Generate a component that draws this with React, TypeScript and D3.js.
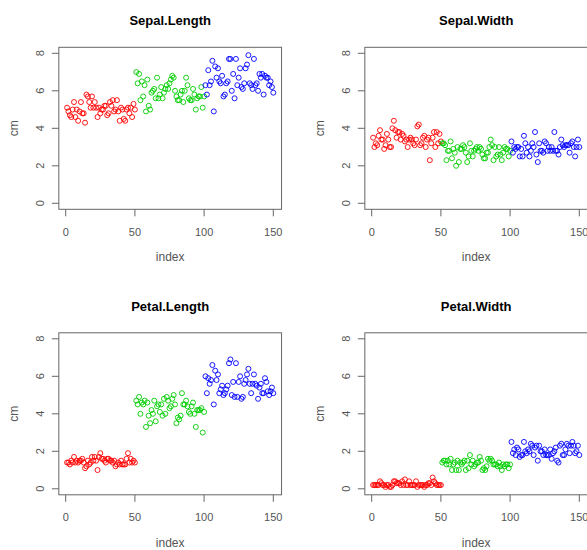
import React from "react";
import * as d3 from "d3";

const sepalLength = [5.1,4.9,4.7,4.6,5.0,5.4,4.6,5.0,4.4,4.9,5.4,4.8,4.8,4.3,5.8,5.7,5.4,5.1,5.7,5.1,5.4,5.1,4.6,5.1,4.8,5.0,5.0,5.2,5.2,4.7,4.8,5.4,5.2,5.5,4.9,5.0,5.5,4.9,4.4,5.1,5.0,4.5,4.4,5.0,5.1,4.8,5.1,4.6,5.3,5.0,
7.0,6.4,6.9,5.5,6.5,5.7,6.3,4.9,6.6,5.2,5.0,5.9,6.0,6.1,5.6,6.7,5.6,5.8,6.2,5.6,5.9,6.1,6.3,6.1,6.4,6.6,6.8,6.7,6.0,5.7,5.5,5.5,5.8,6.0,5.4,6.0,6.7,6.3,5.6,5.5,5.5,6.1,5.8,5.0,5.6,5.7,5.7,6.2,5.1,5.7,
6.3,5.8,7.1,6.3,6.5,7.6,4.9,7.3,6.7,7.2,6.5,6.4,6.8,5.7,5.8,6.4,6.5,7.7,7.7,6.0,6.9,5.6,7.7,6.3,6.7,7.2,6.2,6.1,6.4,7.2,7.4,7.9,6.4,6.3,6.1,7.7,6.3,6.4,6.0,6.9,6.7,6.9,5.8,6.8,6.7,6.7,6.3,6.5,6.2,5.9];

const sepalWidth = [3.5,3.0,3.2,3.1,3.6,3.9,3.4,3.4,2.9,3.1,3.7,3.4,3.0,3.0,4.0,4.4,3.9,3.5,3.8,3.8,3.4,3.7,3.6,3.3,3.4,3.0,3.4,3.5,3.4,3.2,3.1,3.4,4.1,4.2,3.1,3.2,3.5,3.6,3.0,3.4,3.5,2.3,3.2,3.5,3.8,3.0,3.8,3.2,3.7,3.3,
3.2,3.2,3.1,2.3,2.8,2.8,3.3,2.4,2.9,2.7,2.0,3.0,2.2,2.9,2.9,3.1,3.0,2.7,2.2,2.5,3.2,2.8,2.5,2.8,2.9,3.0,2.8,3.0,2.9,2.6,2.4,2.4,2.7,2.7,3.0,3.4,3.1,2.3,3.0,2.5,2.6,3.0,2.6,2.3,2.7,3.0,2.9,2.9,2.5,2.8,
3.3,2.7,3.0,2.9,3.0,3.0,2.5,2.9,2.5,3.6,3.2,2.7,3.0,2.5,2.8,3.2,3.0,3.8,2.6,2.2,3.2,2.8,2.8,2.7,3.3,3.2,2.8,3.0,2.8,3.0,2.8,3.8,2.8,2.8,2.6,3.0,3.4,3.1,3.0,3.1,3.1,3.1,2.7,3.2,3.3,3.0,2.5,3.0,3.4,3.0];

const petalLength = [1.4,1.4,1.3,1.5,1.4,1.7,1.4,1.5,1.4,1.5,1.5,1.6,1.4,1.1,1.2,1.5,1.3,1.4,1.7,1.5,1.7,1.5,1.0,1.7,1.9,1.6,1.6,1.5,1.4,1.6,1.6,1.5,1.5,1.4,1.5,1.2,1.3,1.4,1.3,1.5,1.3,1.3,1.3,1.6,1.9,1.4,1.6,1.4,1.5,1.4,
4.7,4.5,4.9,4.0,4.6,4.5,4.7,3.3,4.6,3.9,3.5,4.2,4.0,4.7,3.6,4.4,4.5,4.1,4.5,3.9,4.8,4.0,4.9,4.7,4.3,4.4,4.8,5.0,4.5,3.5,3.8,3.7,3.9,5.1,4.5,4.5,4.7,4.4,4.1,4.0,4.4,4.6,4.0,3.3,4.2,4.2,4.2,4.3,3.0,4.1,
6.0,5.1,5.9,5.6,5.8,6.6,4.5,6.3,5.8,6.1,5.1,5.3,5.5,5.0,5.1,5.3,5.5,6.7,6.9,5.0,5.7,4.9,6.7,4.9,5.7,6.0,4.8,4.9,5.6,5.8,6.1,6.4,5.6,5.1,5.6,6.1,5.6,5.5,4.8,5.4,5.6,5.1,5.1,5.9,5.7,5.2,5.0,5.2,5.4,5.1];

const petalWidth = [0.2,0.2,0.2,0.2,0.2,0.4,0.3,0.2,0.2,0.1,0.2,0.2,0.1,0.1,0.2,0.4,0.4,0.3,0.3,0.3,0.2,0.4,0.2,0.5,0.2,0.2,0.4,0.2,0.2,0.2,0.2,0.4,0.1,0.2,0.2,0.2,0.2,0.1,0.2,0.2,0.3,0.3,0.2,0.6,0.4,0.3,0.2,0.2,0.2,0.2,
1.4,1.5,1.5,1.3,1.5,1.3,1.6,1.0,1.3,1.4,1.0,1.5,1.0,1.4,1.3,1.4,1.5,1.0,1.5,1.1,1.8,1.3,1.5,1.2,1.3,1.4,1.4,1.7,1.5,1.0,1.1,1.0,1.2,1.6,1.5,1.6,1.5,1.3,1.3,1.3,1.2,1.4,1.2,1.0,1.3,1.2,1.3,1.3,1.1,1.3,
2.5,1.9,2.1,1.8,2.2,2.1,1.7,1.8,1.8,2.5,2.0,1.9,2.1,2.0,2.4,2.3,1.8,2.2,2.3,1.5,2.3,2.0,2.0,1.8,2.1,1.8,1.8,1.8,2.1,1.6,1.9,2.0,2.2,1.5,1.4,2.3,2.4,1.8,1.8,2.1,2.4,2.3,1.9,2.3,2.5,2.3,1.9,2.0,2.3,1.8];

const species = ["setosa", "versicolor", "virginica"];
const speciesColors = ["#FF0000", "#00CD00", "#0000FF"];
const panelTitles = ["Sepal.Length", "Sepal.Width", "Petal.Length", "Petal.Width"];
const panelSeries = [sepalLength, sepalWidth, petalLength, petalWidth];
const xTicks = [0, 50, 100, 150];
const yTicks = [0, 2, 4, 6, 8];
const xLabel = "index";
const yLabel = "cm";

const W = 587;
const H = 550;
const PANEL_W = 306;
const PANEL_H = 285.5;
const FONT = "'Liberation Sans', Arial, sans-serif";
const TEXT = "#555";
const AXIS = "#666";

function Panel({ title, values, ox, oy }: { title: string; values: number[]; ox: number; oy: number }) {
  const x = d3.scaleLinear().domain([0, 150]).range([65.7, 273.3]);
  const y = d3.scaleLinear().domain([0, 8]).range([203.3, 53.3]);
  const ext = (150 - 1) * 0.04;
  const bx0 = x(1 - ext);
  const bx1 = x(150 + ext);
  const by0 = y(8 + 0.32);
  const by1 = y(0 - 0.32);
  const cx = (bx0 + bx1) / 2;
  const cy = (by0 + by1) / 2;
  const colorOf = d3.scaleOrdinal<string, string>().domain(species).range(speciesColors);
  return (
    <g transform={`translate(${ox},${oy})`}>
      <text x={cx} y={25} textAnchor="middle" fontWeight="bold" fontSize={13} fill="#000" fontFamily={FONT}>
        {title}
      </text>
      <rect x={bx0} y={by0} width={bx1 - bx0} height={by1 - by0} fill="none" stroke={AXIS} strokeWidth={1} />
      {xTicks.map((t) => (
        <g key={"x" + t}>
          <line x1={x(t)} x2={x(t)} y1={by1} y2={by1 + 7} stroke={AXIS} />
          <text x={x(t)} y={235.5} textAnchor="middle" fontSize={11} fill={TEXT} fontFamily={FONT}>
            {t}
          </text>
        </g>
      ))}
      {yTicks.map((t) => (
        <g key={"y" + t}>
          <line x1={bx0 - 7} x2={bx0} y1={y(t)} y2={y(t)} stroke={AXIS} />
          <text
            transform={`translate(${44},${y(t)}) rotate(-90)`}
            textAnchor="middle"
            fontSize={11}
            fill={TEXT}
            fontFamily={FONT}
          >
            {t}
          </text>
        </g>
      ))}
      <text x={cx} y={261} textAnchor="middle" fontSize={12} fill={TEXT} fontFamily={FONT}>
        {xLabel}
      </text>
      <text transform={`translate(${18},${cy}) rotate(-90)`} textAnchor="middle" fontSize={12} fill={TEXT} fontFamily={FONT}>
        {yLabel}
      </text>
      {values.map((v, i) => (
        <circle
          key={i}
          cx={x(i + 1)}
          cy={y(v)}
          r={2.5}
          fill="none"
          stroke={colorOf(species[Math.floor(i / 50)])}
          strokeWidth={0.9}
        />
      ))}
    </g>
  );
}

export default function App() {
  return (
    <svg width={W} height={H} style={{ position: "absolute", left: 0, top: 0, background: "#fff" }}>
      <rect x={0} y={0} width={W} height={H} fill="#fff" />
      {panelTitles.map((t, k) => (
        <Panel
          key={t}
          title={t}
          values={panelSeries[k]}
          ox={(k % 2) * PANEL_W}
          oy={Math.floor(k / 2) * PANEL_H}
        />
      ))}
    </svg>
  );
}
